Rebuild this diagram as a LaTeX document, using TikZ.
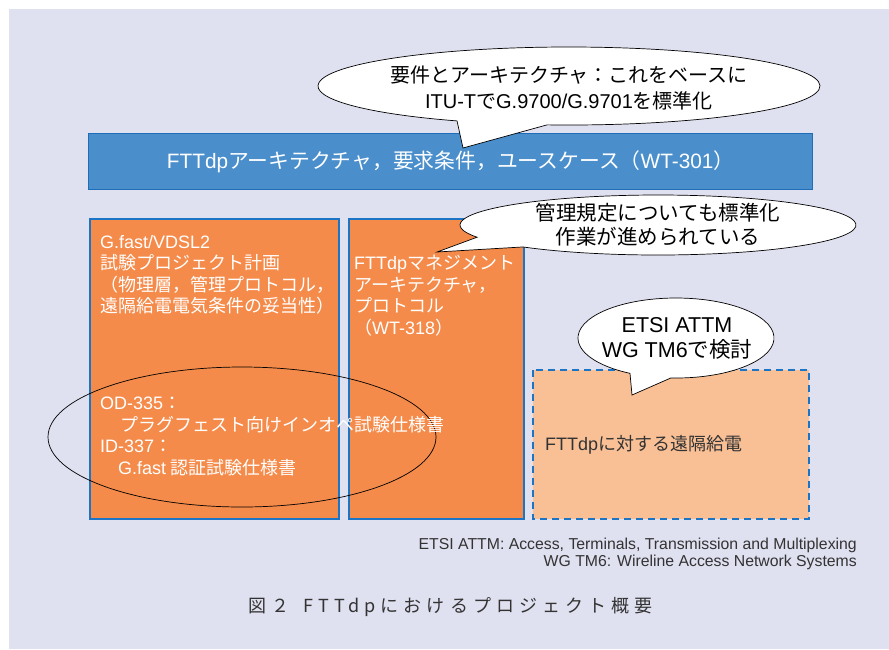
\documentclass[tikz,border=0pt]{standalone}
\usepackage{fontspec}
\setmainfont{Noto Sans CJK JP}
\newfontfamily\capfont[LetterSpace=28]{Noto Sans CJK JP}
\newfontfamily\lat{Liberation Sans}
\usetikzlibrary{calc}
\definecolor{bgc}{HTML}{DFE0F0}
\definecolor{barfill}{HTML}{4A8FCC}
\definecolor{barline}{HTML}{1E6DB8}
\definecolor{orfill}{HTML}{F58B4A}
\definecolor{orline}{HTML}{1C75C4}
\definecolor{ltor}{HTML}{F9C096}
\definecolor{ftgray}{HTML}{333333}
\tikzset{
  orbox/.style={draw=orline, fill=orfill, line width=1.6pt},
  wtxt/.style={text=white, font=\fontsize{18}{21.5}\selectfont, align=left, anchor=north west, inner sep=0pt},
  callout/.style={draw=black, fill=white, line width=0.7pt},
  btxt/.style={text=black, align=center, inner sep=0pt},
}
\begin{document}
\begin{tikzpicture}[x=1pt,y=-1pt]
\useasboundingbox (0,0) rectangle (889,649);
\fill[bgc] (9,9) rectangle (889,649);
% top bar
\node[draw=barline, fill=barfill, line width=1.2pt, minimum width=724pt, minimum height=56pt, anchor=north west, inner sep=0pt,
  text=white, font=\fontsize{20.8}{22}\selectfont] (bar) at (88,133) {{\lat FTTdp}アーキテクチャ，要求条件，ユースケース（{\lat WT-301}）};
% orange boxes
\path[orbox] (90,219) rectangle (339,519);
\coordinate (lbox) at (90,219);
\path[orbox] (349,219) rectangle (524,519);
\coordinate (mbox) at (349,219);
\path[draw=orline, fill=ltor, line width=1.6pt, dash pattern=on 7pt off 5pt] (533,370) rectangle (809,519);
\coordinate (dbox) at (533,370);
% ellipse on left box
\draw[black, line width=0.7pt] (242,437) ellipse[x radius=194, y radius=70];
% texts in boxes
\node[wtxt] (t1) at (100,235) {{\lat G.fast/VDSL2}\\試験プロジェクト計画\\（物理層，管理プロトコル，\\遠隔給電電気条件の妥当性）};
\node[wtxt] (t2) at (100,397) {{\lat OD-335}：\\\hspace*{20pt}プラグフェスト向けインオペ試験仕様書\\{\lat ID-337}：\\\hspace*{18pt}{\lat G.fast} 認証試験仕様書};
\node[wtxt] (t3) at (354,255) {{\lat FTTdp}マネジメント\\アーキテクチャ，\\プロトコル\\（{\lat WT-318}）};
\node[anchor=west, inner sep=0pt, text=ftgray, font=\fontsize{18}{20}\selectfont] (t4) at (545,445) {{\lat FTTdp}に対する遠隔給電};
% callout 1
\coordinate (c1) at (569,86);
\coordinate (k1) at (463,148);
\path[callout] ($(c1)+(95:251 and 39)$) arc[start angle=95, end angle=-243.5, x radius=251, y radius=39] -- (k1) -- cycle;
\node[btxt, font=\fontsize{20}{26}\selectfont] (s1) at (569,88) {要件とアーキテクチャ：これをベースに\\{\lat ITU-T}で{\lat G.9700/G.9701}を標準化};
% callout 2
\coordinate (c2) at (658,225);
\coordinate (k2) at (437,252);
\path[callout] ($(c2)+(133:198 and 30)$) arc[start angle=133, end angle=-204, x radius=198, y radius=30] -- (k2) -- cycle;
\node[btxt, font=\fontsize{20.5}{24}\selectfont] (s2) at (658,225) {管理規定についても標準化\\作業が進められている};
% callout 3
\coordinate (c3) at (676,338);
\coordinate (k3) at (632,395);
\path[callout] ($(c3)+(93:98 and 40)$) arc[start angle=93, end angle=-242, x radius=98, y radius=40] -- (k3) -- cycle;
\node[btxt, font=\fontsize{21.5}{25}\selectfont] (s3) at (677,338) {{\lat ETSI ATTM}\\{\lat WG TM6}で検討};
% footnotes
\node[anchor=north east, inner sep=0pt, align=right, text=ftgray, font=\fontsize{15.8}{17}\lat] (fn) at (857,538)
  {ETSI ATTM: Access, Terminals, Transmission and Multiplexing\\WG TM6: Wireline Access Network Systems};
% caption
\node[anchor=west, inner sep=0pt, text=ftgray, font=\fontsize{18}{20}\capfont] (cap) at (248,607) {図２\hspace{14pt}FTTdpにおけるプロジェクト概要};
\end{tikzpicture}
\end{document}
